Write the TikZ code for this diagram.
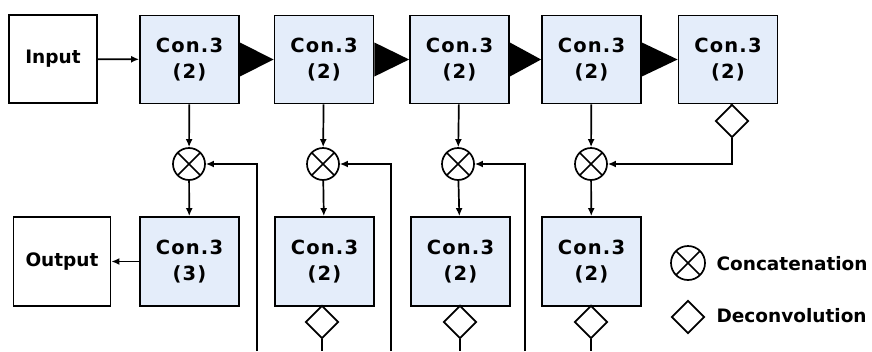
\documentclass[tikz,border=0pt]{standalone}
\usepackage{fontspec}
\setmainfont{DejaVu Sans}
\newfontfamily\boxfont[LetterSpace=6]{DejaVu Sans}
\usepackage{tikz}
\usetikzlibrary{arrows.meta,calc,shapes.geometric}
\definecolor{boxblue}{RGB}{228,237,250}
\tikzset{
  plain/.style={draw,line width=1.8pt,minimum width=88pt,minimum height=88pt,inner sep=0pt,
    font=\fontsize{18.5}{26}\selectfont\bfseries},
  conv/.style={plain,fill=boxblue,minimum width=99pt,align=center,
    font=\boxfont\fontsize{19.5}{26}\selectfont\bfseries},
  concat/.style={circle,draw,line width=1.7pt,minimum size=32pt,inner sep=0pt,
    path picture={\draw[line width=1.7pt] (path picture bounding box.north west) -- (path picture bounding box.south east)
      (path picture bounding box.north east) -- (path picture bounding box.south west);}},
  deconv/.style={diamond,draw,line width=1.7pt,minimum size=33pt,inner sep=0pt},
  arr/.style={line width=1.7pt,-{Latex[length=8pt,width=7pt]}},
  link/.style={line width=1.7pt},
  legend/.style={anchor=west,font=\fontsize{18.5}{22}\selectfont\bfseries},
}
\begin{document}
\begin{tikzpicture}[x=1pt,y=-1pt]
      \useasboundingbox (0,0) rectangle (872,351);
      % top row
      \node[plain] (in) at (53,59) {Input};
      \node[conv] (c1) at (189.5,59.5) {Con.3\\(2)};
      \node[conv] (c2) at (324,59.5) {Con.3\\(2)};
      \node[conv] (c3) at (459.5,59.5) {Con.3\\(2)};
      \node[conv] (c4) at (591.5,59.5) {Con.3\\(2)};
      \node[conv] (c5) at (728,59.5) {Con.3\\(2)};
      \node[deconv] (d5) at (732,121) {};

      % concatenation
      \node[concat] (m1) at (189,164) {};
      \node[concat] (m2) at (323,164) {};
      \node[concat] (m3) at (458,164) {};
      \node[concat] (m4) at (591,164) {};

      % bottom row
      \node[plain,minimum width=97pt,minimum height=89pt] (out) at (62,261.5) {Output};
      \node[conv,minimum height=89pt] (b1) at (189.5,261.5) {Con.3\\(3)};
      \node[conv,minimum height=89pt] (b2) at (324.5,261.5) {Con.3\\(2)};
      \node[conv,minimum height=89pt] (b3) at (460.5,261.5) {Con.3\\(2)};
      \node[conv,minimum height=89pt] (b4) at (591.5,261.5) {Con.3\\(2)};
      \node[deconv] (d2) at (322,322) {};
      \node[deconv] (d3) at (460,322) {};
      \node[deconv] (d4) at (591,322) {};
      \coordinate (e2) at (322,351);
      \coordinate (e3) at (460,351);
      \coordinate (e4) at (591,351);
      \coordinate (f1) at (257,351);
      \coordinate (f2) at (391,351);
      \coordinate (f3) at (525,351);

      % legend
      \node[concat,minimum size=34pt] (lc) at (688,263) {};
      \node[legend] (lct) at (713,264) {Concatenation};
      \node[deconv] (ld) at (688,317) {};
      \node[legend] (ldt) at (713,316) {Deconvolution};

      % pooling
      \foreach \a/\b in {c1/c2,c2/c3,c3/c4,c4/c5}
        \fill ($(\a.east)+(0,-17)$) -- (\b.west) -- ($(\a.east)+(0,17)$) -- cycle;

      \draw[arr] (in) -- (c1);
      \draw[arr] (b1) -- (out);
      \foreach \i in {1,2,3,4} {
        \draw[arr] (c\i) -- (m\i);
        \draw[arr] (m\i) -- (b\i);
      }
      \draw[link] (c5) -- (d5);
      \draw[arr] (d5.south) |- (m4.east);
      \foreach \i in {1,2,3}
        \draw[arr] (f\i) |- (m\i.east);
      \foreach \i in {2,3,4}
        \draw[link] (d\i.south) -- (e\i);
      \draw[link] (b2) -- (d2);
      \draw[link] (b3) -- (d3);
      \draw[link] (b4) -- (d4);
    \end{tikzpicture}
\end{document}
